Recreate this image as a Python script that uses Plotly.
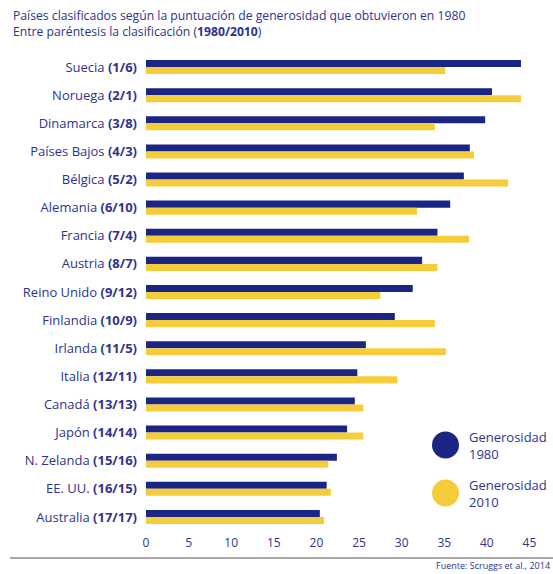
import plotly.graph_objects as go

countries = [
    "Suecia", "Noruega", "Dinamarca", "Países Bajos", "Bélgica", "Alemania",
    "Francia", "Austria", "Reino Unido", "Finlandia", "Irlanda", "Italia",
    "Canadá", "Japón", "N. Zelanda", "EE. UU.", "Australia",
]
ranks = [
    "1/6", "2/1", "3/8", "4/3", "5/2", "6/10", "7/4", "8/7", "9/12",
    "10/9", "11/5", "12/11", "13/13", "14/14", "15/16", "16/15", "17/17",
]
gen_1980 = [44.0, 40.6, 39.8, 38.0, 37.3, 35.7, 34.2, 32.4, 31.3,
            29.2, 25.8, 24.8, 24.5, 23.6, 22.4, 21.2, 20.4]
gen_2010 = [35.1, 44.0, 33.9, 38.5, 42.5, 31.8, 37.9, 34.2, 27.5,
            33.9, 35.2, 29.5, 25.5, 25.5, 21.4, 21.7, 20.9]
x_ticks = [0, 5, 10, 15, 20, 25, 30, 35, 40, 45]

NAVY = "#1b2583"
YELLOW = "#f5cd3b"
TEXT = "#2e338c"
FONT = "Open Sans"

labels = [f"{c} <b>({r})</b>" for c, r in zip(countries, ranks)]

fig = go.Figure()
fig.add_trace(go.Bar(y=labels, x=gen_1980, orientation="h", name="Generosidad 1980",
                     marker=dict(color=NAVY, line=dict(width=0))))
fig.add_trace(go.Bar(y=labels, x=gen_2010, orientation="h", name="Generosidad 2010",
                     marker=dict(color=YELLOW, line=dict(width=0))))

fig.update_xaxes(
    range=[0, 46], tickvals=x_ticks, showgrid=False, zeroline=False,
    showline=False, ticks="", tickfont=dict(size=12, color=TEXT, family=FONT),
    ticklabelstandoff=3,
)
fig.update_yaxes(
    type="category", range=[16.5, -0.5], showgrid=False, showline=False,
    ticks="", tickfont=dict(size=13, color=TEXT, family=FONT), ticklabelstandoff=8,
)

# legend drawn as circles + text
legend_items = [("Generosidad<br>1980", NAVY, 445), ("Generosidad<br>2010", YELLOW, 493)]
shapes = []
annotations = []
for text, color, ypx in legend_items:
    shapes.append(dict(type="circle", x0=432, x1=459, y0=ypx - 13.5, y1=ypx + 13.5,
                       fillcolor=color, line=dict(width=0)))
    annotations.append(dict(text=text, x=467, y=ypx, xanchor="left", yanchor="middle",
                            align="left", showarrow=False,
                            font=dict(size=13, color=TEXT, family=FONT)))

# title lines
annotations.append(dict(
    text="Países clasificados según la puntuación de generosidad que obtuvieron en 1980"
         "<br>Entre paréntesis la clasificación (<b>1980/2010</b>)",
    x=11, y=5, xanchor="left", yanchor="top",
    align="left", showarrow=False, font=dict(size=12.2, color=TEXT, family=FONT),
))
annotations.append(dict(
    text="Fuente: Scruggs et al., 2014", x=551, y=565, xanchor="right", yanchor="middle",
    showarrow=False, borderpad=0, font=dict(size=9, color=TEXT, family=FONT),
))
shapes.append(dict(type="line", x0=10, x1=553, y0=558, y1=558,
                   line=dict(color="#a9a9a9", width=2)))

# positions above are in picture pixels; convert to paper coords
L, R, T, B = 146, 15, 53, 43
W, H = 553, 574
pw, ph = W - L - R, H - T - B


def fx(v):
    return (v - L) / pw


def fy(v):
    return (H - v - B) / ph


for s in shapes:
    s["xref"], s["yref"] = "paper", "paper"
    s["x0"], s["x1"] = fx(s["x0"]), fx(s["x1"])
    s["y0"], s["y1"] = fy(s["y0"]), fy(s["y1"])
for a in annotations:
    a["xref"], a["yref"] = "paper", "paper"
    a["x"], a["y"] = fx(a["x"]), fy(a["y"])

fig.update_layout(
    width=W, height=H,
    margin=dict(l=L, r=R, t=T, b=B),
    barmode="group", bargap=0.5, bargroupgap=0,
    showlegend=False,
    plot_bgcolor="white", paper_bgcolor="white",
    shapes=shapes, annotations=annotations,
    font=dict(family=FONT, color=TEXT),
)

fig.write_html(
    "out.html",
    config={"displayModeBar": False},
    post_script="document.body.style.margin='0';document.body.style.overflow='hidden';",
)
